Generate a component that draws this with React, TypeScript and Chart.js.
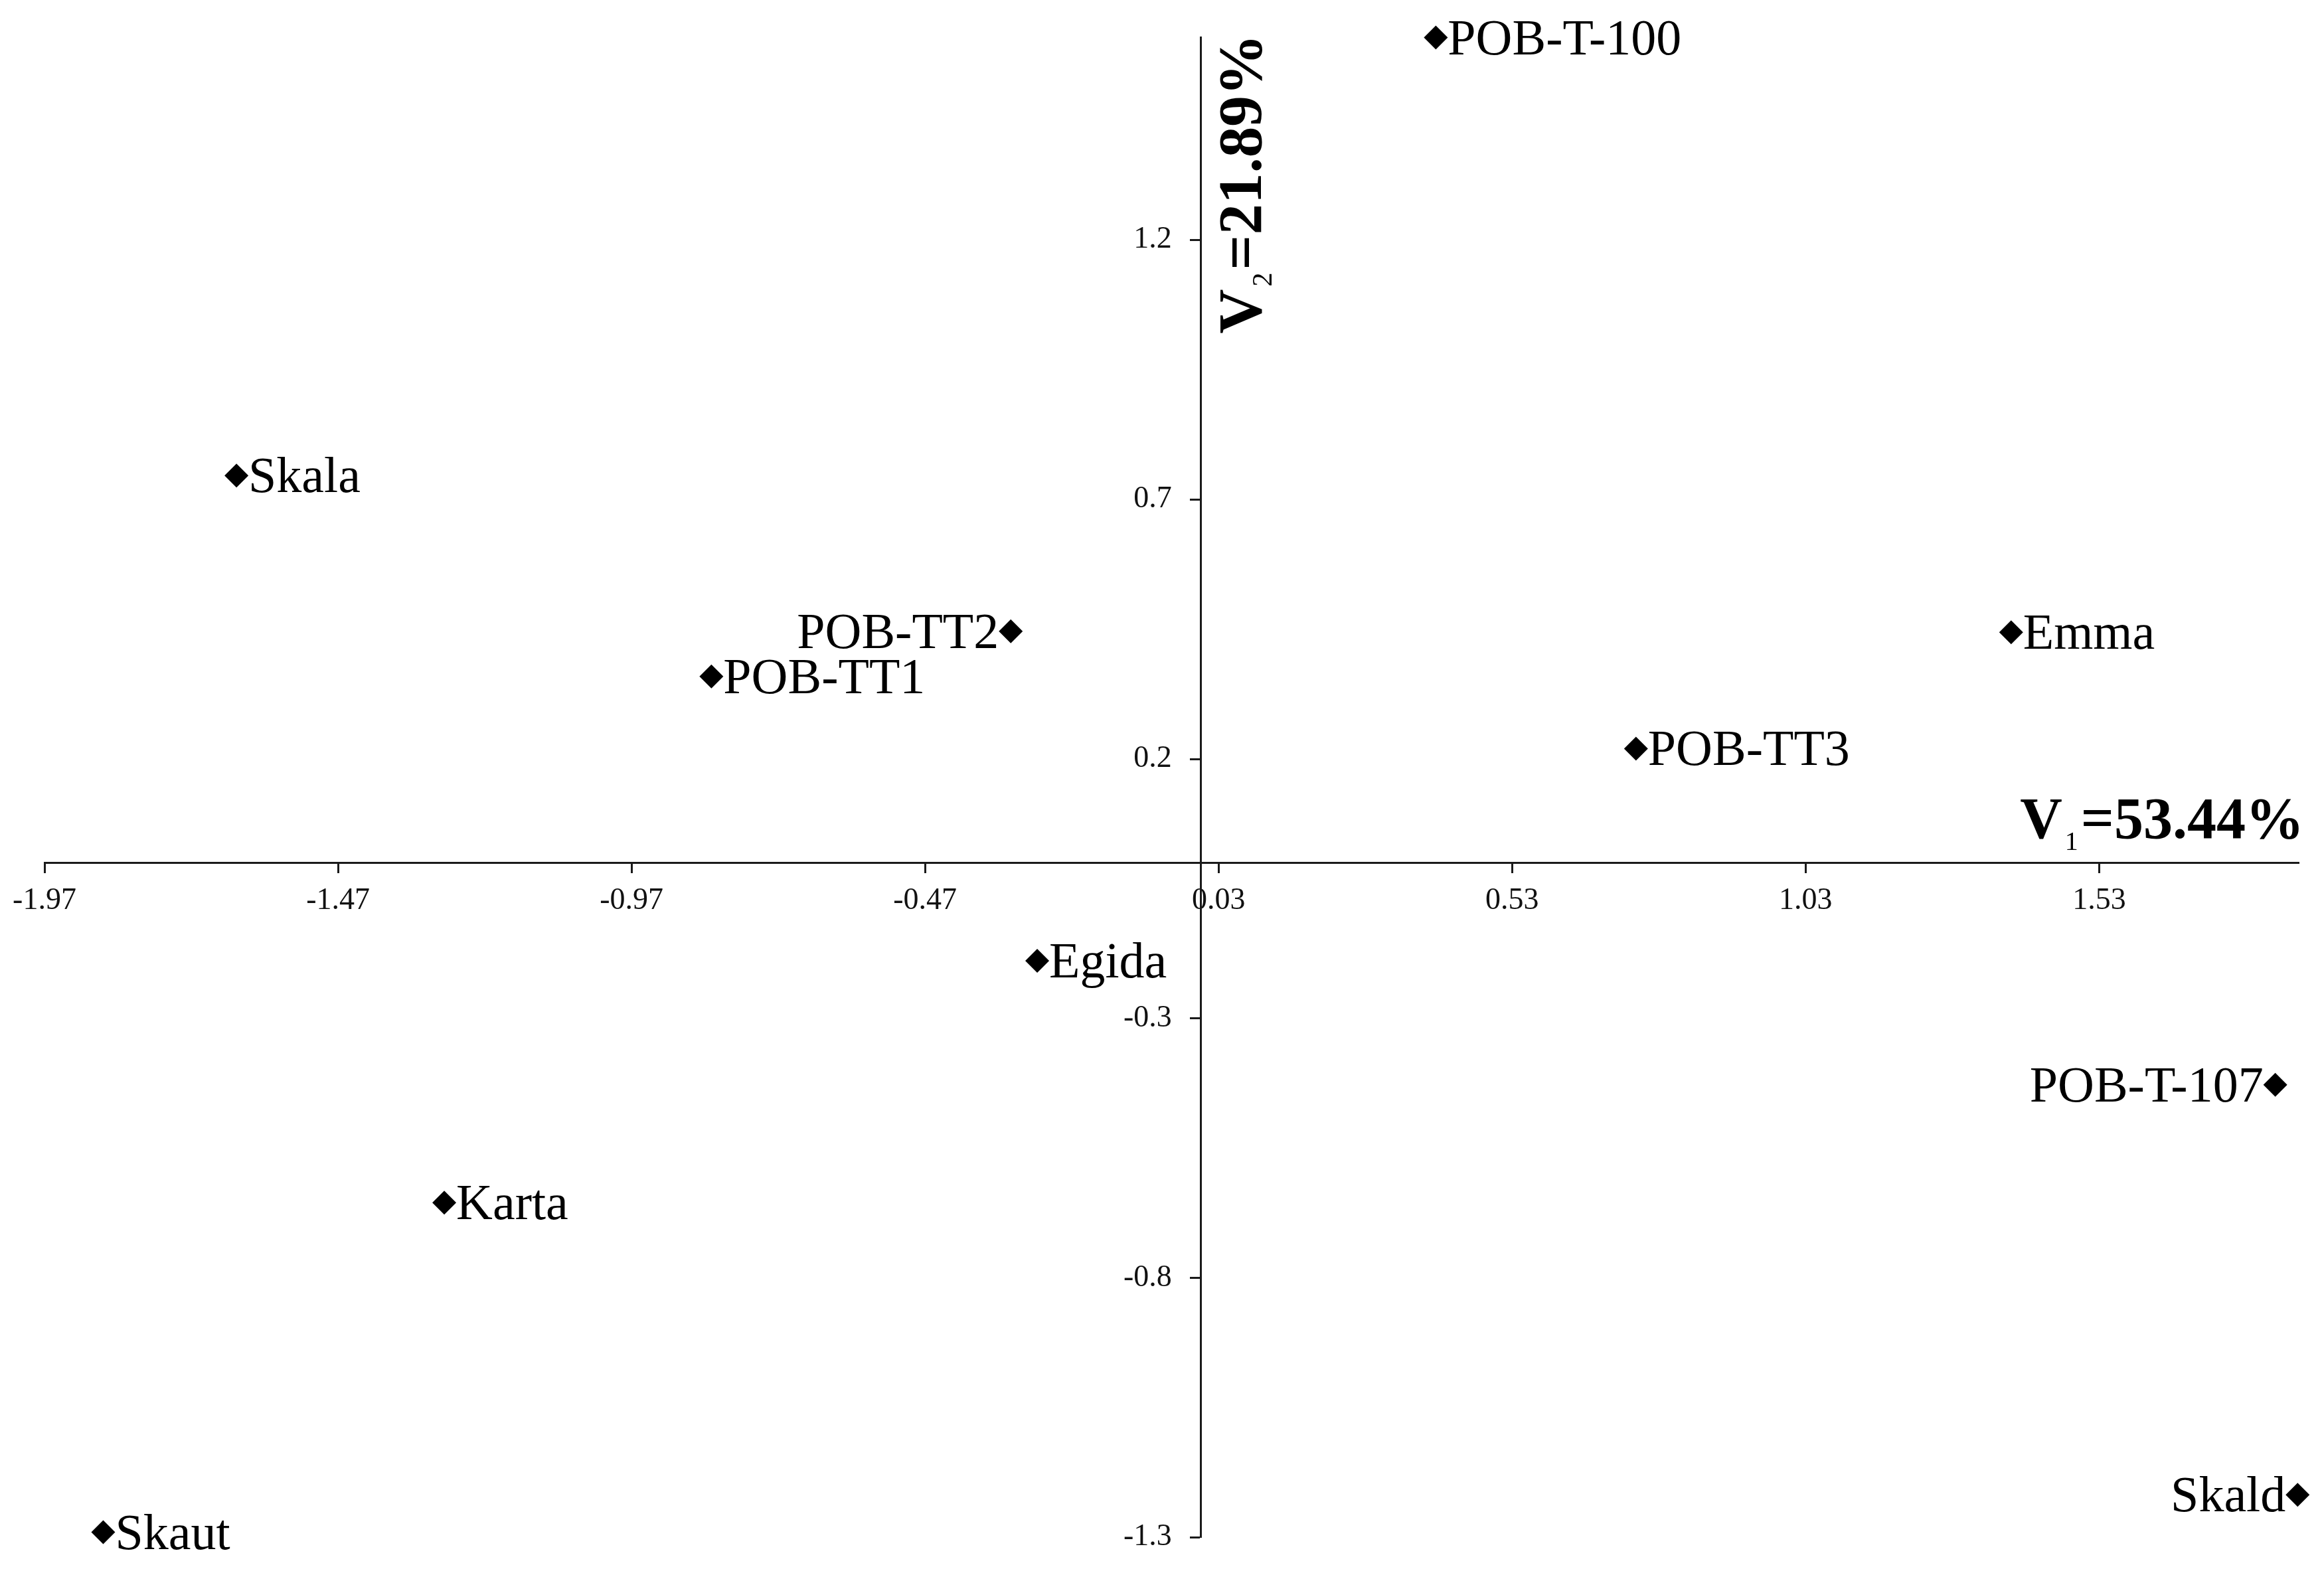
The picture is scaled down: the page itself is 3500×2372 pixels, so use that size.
import React, { useEffect, useRef } from 'react';
import { Chart, registerables } from 'chart.js';

Chart.register(...registerables);

// ---- data ----
const cultivars = ['POB-T-100', 'Skala', 'POB-TT2', 'POB-TT1', 'Emma', 'POB-TT3', 'Egida', 'POB-T-107', 'Karta', 'Skald', 'Skaut'];
const v1Values = [0.40, -1.643, -0.324, -0.834, 1.380, 0.741, -0.279, 1.830, -1.289, 1.868, -1.870];
const v2Values = [1.59, 0.746, 0.446, 0.359, 0.444, 0.220, -0.189, -0.428, -0.655, -1.218, -1.290];
const labelSide = ['right', 'right', 'left', 'right', 'right', 'right', 'right', 'left', 'right', 'left', 'right'];

const xTickValues = [-1.97, -1.47, -0.97, -0.47, 0.03, 0.53, 1.03, 1.53];
const xTickLabels = ['-1.97', '-1.47', '-0.97', '-0.47', '0.03', '0.53', '1.03', '1.53'];
const yTickValues = [1.2, 0.7, 0.2, -0.3, -0.8, -1.3];
const yTickLabels = ['1.2', '0.7', '0.2', '-0.3', '-0.8', '-1.3'];
const xRange = [-1.97, 1.87];
const yRange = [-1.3, 1.59];

const xTitleParts = ['V', '1', '=53.44%'];
const yTitleParts = ['V', '2', '=21.89%'];

const FONT = '"Liberation Serif", "Times New Roman", serif';
const AXIS_COLOR = '#1a1a1a';
const Y_TICK_LEN = 15;
const Y_TICK_PAD = 29;

// shift the y-axis tick labels to the left of the tick marks
const yLabelShiftPlugin = {
  id: 'yLabelShift',
  beforeDraw(chart: any) {
    const ys = chart.scales.y;
    if (!ys || !ys.getLabelItems) return;
    const items = ys.getLabelItems(chart.chartArea);
    if (!items || (items as any).__shifted) return;
    items.forEach((it: any) => {
      if (it.options && it.options.translation) {
        it.options.translation[0] -= Y_TICK_LEN + Y_TICK_PAD;
      }
    });
    (items as any).__shifted = true;
  },
};

const annotatePlugin = {
  id: 'annotate',
  afterDatasetsDraw(chart: any) {
    const ctx = chart.ctx as CanvasRenderingContext2D;
    const meta = chart.getDatasetMeta(0);
    const r = 18;
    ctx.save();
    ctx.fillStyle = '#000';
    ctx.textBaseline = 'alphabetic';
    ctx.font = `76px ${FONT}`;
    meta.data.forEach((el: any, i: number) => {
      if (labelSide[i] === 'left') {
        ctx.textAlign = 'right';
        ctx.fillText(cultivars[i], el.x - r, el.y + 25);
      } else {
        ctx.textAlign = 'left';
        ctx.fillText(cultivars[i], el.x + r, el.y + 25);
      }
    });

    const xs = chart.scales.x;
    const ys = chart.scales.y;
    const x0 = xs.getPixelForValue(0);
    const y0 = ys.getPixelForValue(0);
    const area = chart.chartArea;

    const gap = 4;

    // V1 title (horizontal, above x axis at right end)
    const bold1 = `bold 88px ${FONT}`;
    const sub1 = `40px ${FONT}`;
    ctx.textAlign = 'left';
    ctx.font = bold1;
    const wV = ctx.measureText(xTitleParts[0]).width;
    const wRest = ctx.measureText(xTitleParts[2]).width;
    ctx.font = sub1;
    const wSub = ctx.measureText(xTitleParts[1]).width;
    const total = wV + gap + wSub + gap + wRest;
    let tx = area.right + 8 - total;
    const base = y0 - 37;
    ctx.font = bold1;
    ctx.fillText(xTitleParts[0], tx, base);
    tx += wV + gap;
    ctx.font = sub1;
    ctx.fillText(xTitleParts[1], tx, base + 18);
    tx += wSub + gap;
    ctx.font = bold1;
    ctx.fillText(xTitleParts[2], tx, base);

    // V2 title (rotated, right of y axis near top)
    const bold2 = `bold 93px ${FONT}`;
    const sub2 = `42px ${FONT}`;
    ctx.save();
    ctx.translate(x0 + 90, area.top + 446);
    ctx.rotate(-Math.PI / 2);
    ctx.textAlign = 'left';
    ctx.font = bold2;
    const wV2 = ctx.measureText(yTitleParts[0]).width;
    ctx.font = sub2;
    const wSub2 = ctx.measureText(yTitleParts[1]).width;
    let ty = 0;
    ctx.font = bold2;
    ctx.fillText(yTitleParts[0], ty, 0);
    ty += wV2 + gap;
    ctx.font = sub2;
    ctx.fillText(yTitleParts[1], ty, 16);
    ty += wSub2 + gap;
    ctx.font = bold2;
    ctx.fillText(yTitleParts[2], ty, 0);
    ctx.restore();

    ctx.restore();
  },
};

export default function App() {
  const canvasRef = useRef<HTMLCanvasElement | null>(null);

  useEffect(() => {
    document.body.style.margin = '0';
    const canvas = canvasRef.current;
    if (!canvas) return;
    const points = v1Values.map((x, i) => ({ x, y: v2Values[i] }));
    const chart = new Chart(canvas, {
      type: 'scatter',
      data: {
        datasets: [
          {
            label: 'Cultivars',
            data: points,
            pointStyle: 'rectRot',
            pointRadius: 18,
            pointHoverRadius: 18,
            backgroundColor: '#000',
            borderColor: '#000',
            borderWidth: 0,
            clip: false as any,
          },
        ],
      },
      options: {
        animation: false,
        responsive: false,
        devicePixelRatio: 1,
        layout: { padding: { left: 67, right: 38, top: 50, bottom: 50 } },
        plugins: {
          legend: { display: false },
          tooltip: { enabled: false },
          title: { display: false },
        },
        scales: {
          x: {
            type: 'linear',
            position: { y: 0 } as any,
            min: xRange[0],
            max: xRange[1],
            afterBuildTicks: (scale: any) => {
              scale.ticks = xTickValues.map((v) => ({ value: v }));
            },
            ticks: {
              autoSkip: false,
              maxRotation: 0,
              padding: 16,
              color: '#111',
              font: { family: FONT, size: 46 },
              callback: (_v: any, idx: number) => xTickLabels[idx],
            },
            grid: {
              display: true,
              drawOnChartArea: false,
              drawTicks: true,
              tickLength: 14,
              tickWidth: 3,
              tickColor: AXIS_COLOR,
            },
            border: { display: true, color: AXIS_COLOR, width: 3 },
          },
          y: {
            type: 'linear',
            position: { x: 0 } as any,
            min: yRange[0],
            max: yRange[1],
            afterBuildTicks: (scale: any) => {
              scale.ticks = yTickValues.map((v) => ({ value: v }));
            },
            ticks: {
              autoSkip: false,
              padding: Y_TICK_PAD,
              color: '#111',
              font: { family: FONT, size: 46 },
              callback: (_v: any, idx: number) => yTickLabels[idx],
            },
            grid: {
              display: true,
              drawOnChartArea: false,
              drawTicks: true,
              tickLength: Y_TICK_LEN,
              tickWidth: 3,
              tickColor: AXIS_COLOR,
            },
            border: { display: true, color: AXIS_COLOR, width: 3 },
          },
        },
      },
      plugins: [yLabelShiftPlugin, annotatePlugin],
    });
    return () => chart.destroy();
  }, []);

  return (
    <div style={{ position: 'absolute', left: 0, top: 0, width: 3500, height: 2372, background: '#fff' }}>
      <canvas ref={canvasRef} width={3500} height={2372} style={{ display: 'block', width: 3500, height: 2372 }} />
    </div>
  );
}
